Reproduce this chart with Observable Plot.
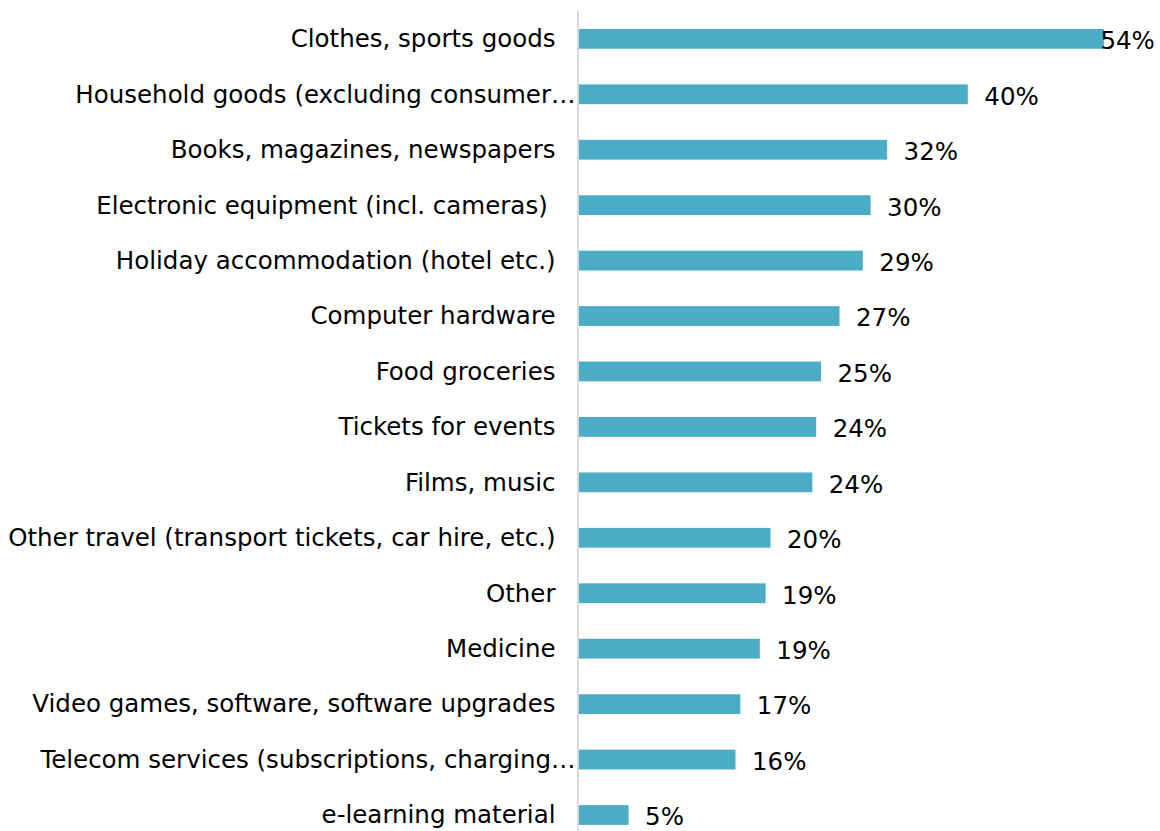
<!DOCTYPE html>
<html>
<head>
<meta charset="utf-8">
<script src="https://cdn.jsdelivr.net/npm/d3@7"></script>
<script src="https://cdn.jsdelivr.net/npm/@observablehq/plot@0.6"></script>
<style>
  html, body { margin: 0; padding: 0; background: #ffffff; }
  svg text { white-space: pre; }
</style>
</head>
<body>
<div id="chart"></div>
<script>
const categories = [
  "Clothes, sports goods",
  "Household goods (excluding consumer…",
  "Books, magazines, newspapers",
  "Electronic equipment (incl. cameras) ",
  "Holiday accommodation (hotel etc.)",
  "Computer hardware",
  "Food groceries",
  "Tickets for events",
  "Films, music",
  "Other travel (transport tickets, car hire, etc.)",
  "Other",
  "Medicine",
  "Video games, software, software upgrades",
  "Telecom services (subscriptions, charging…",
  "e-learning material"
];
const values = [0.540, 0.400, 0.317, 0.300, 0.292, 0.268, 0.249, 0.244, 0.240, 0.197, 0.192, 0.186, 0.166, 0.161, 0.051];
const valueLabels = ["54%", "40%", "32%", "30%", "29%", "27%", "25%", "24%", "24%", "20%", "19%", "19%", "17%", "16%", "5%"];

const data = categories.map((c, i) => ({
  category: c,
  value: values[i],
  label: valueLabels[i],
  truncated: c.endsWith("…")
}));
const maxValue = d3.max(values);
const fs = 24.5;

const chart = Plot.plot({
  width: 1160,
  height: 831,
  marginLeft: 579,
  marginRight: 17.24,
  marginTop: 28.95,
  marginBottom: 6.1,
  style: { fontFamily: "'DejaVu Sans', Verdana, sans-serif", fontSize: fs + "px", color: "#000", background: "#fff" },
  x: { domain: [0, 0.58], axis: null },
  y: { domain: categories, axis: null, paddingInner: 0.643, paddingOuter: 0, round: false },
  marks: [
    Plot.barX(data, { x: "value", y: "category", fill: "#4BACC6" }),
    Plot.ruleX([0], { stroke: "#d9d9d9", strokeWidth: 2, dx: -1.5, insetTop: -18, insetBottom: -7 }),
    Plot.text(data.filter(d => !d.truncated), { x: 0, y: "category", text: "category", textAnchor: "end", dx: -24, dy: 0, fill: "#000", fontSize: fs }),
    Plot.text(data.filter(d => d.truncated), { x: 0, y: "category", text: "category", textAnchor: "end", dx: -4, dy: 0, fill: "#000", fontSize: fs }),
    Plot.text(data.filter(d => d.value !== maxValue), { x: "value", y: "category", text: "label", textAnchor: "start", dx: 16, dy: 2, fill: "#000", fontSize: fs }),
    Plot.text(data.filter(d => d.value === maxValue), { x: "value", y: "category", text: "label", textAnchor: "start", dx: -4, dy: 2, fill: "#000", fontSize: fs })
  ]
});
document.getElementById("chart").appendChild(chart);
</script>
</body>
</html>
